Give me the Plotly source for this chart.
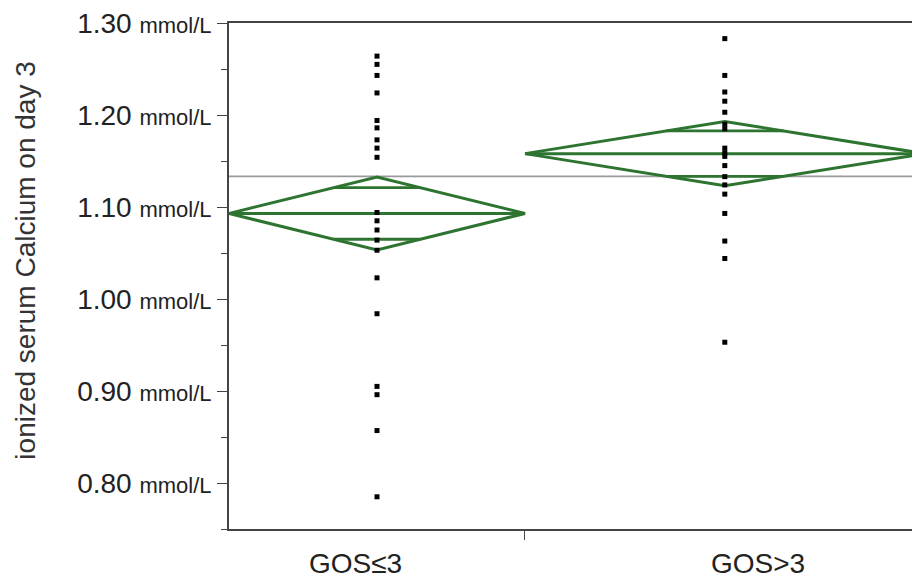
import math
import plotly.graph_objects as go

# ---- data ----
groups = ["GOS≤3", "GOS>3"]
group_n = [20, 27]                      # relative group sizes (diamond widths)
group_means = [1.093, 1.158]
group_ci_half = [0.0397, 0.0350]
grand_mean = 1.1333

gos_le3 = [1.264, 1.255, 1.243, 1.224, 1.194, 1.186, 1.173, 1.164, 1.154,
           1.094, 1.085, 1.075, 1.064, 1.053, 1.023, 0.984, 0.905, 0.896,
           0.857, 0.785]
gos_gt3 = [1.283, 1.243, 1.225, 1.215, 1.203, 1.190, 1.185, 1.164, 1.159,
           1.155, 1.145, 1.133, 1.124, 1.114, 1.093, 1.063, 1.044, 0.953]
values = [gos_le3, gos_gt3]

y_ticks = [0.80, 0.90, 1.00, 1.10, 1.20, 1.30]
y_minor = [0.75, 0.85, 0.95, 1.05, 1.15, 1.25]
y_title = "ionized serum Calcium on day 3"
unit = "mmol/L"

GREEN = "#2E7431"
FONT = "Liberation Sans, Arial, sans-serif"

fig = go.Figure()

# group extents from sizes
edges = [0]
for n in group_n:
    edges.append(edges[-1] + n)
total = edges[-1]

# grand mean line
fig.add_trace(go.Scatter(x=[0, total], y=[grand_mean, grand_mean], mode="lines",
                         line=dict(color="#9a9a9a", width=1.8), hoverinfo="skip",
                         showlegend=False))

k = 1 - 1 / math.sqrt(2)
for i in range(len(groups)):
    x0, x1 = edges[i], edges[i + 1]
    c = (x0 + x1) / 2
    w = (x1 - x0) / 2
    m = group_means[i]
    h = group_ci_half[i]
    # diamond
    fig.add_trace(go.Scatter(x=[x0, c, x1, c, x0], y=[m, m + h, m, m - h, m],
                             mode="lines", line=dict(color=GREEN, width=3),
                             hoverinfo="skip", showlegend=False))
    # mean line
    fig.add_trace(go.Scatter(x=[x0, x1], y=[m, m], mode="lines",
                             line=dict(color=GREEN, width=3),
                             hoverinfo="skip", showlegend=False))
    # overlap marks
    for s in (1, -1):
        yy = m + s * h / math.sqrt(2)
        fig.add_trace(go.Scatter(x=[c - w * k, c + w * k], y=[yy, yy], mode="lines",
                                 line=dict(color=GREEN, width=2.8),
                                 hoverinfo="skip", showlegend=False))
    # points
    fig.add_trace(go.Scatter(x=[c] * len(values[i]), y=values[i], mode="markers",
                             marker=dict(symbol="square", size=5, color="black"),
                             name=groups[i], showlegend=False))

# group labels
label_shift = [-22, 33]
for i, g in enumerate(groups):
    c = (edges[i] + edges[i + 1]) / 2
    fig.add_annotation(x=c, y=0, xref="x", yref="paper", text=g, showarrow=False,
                       yanchor="middle", yshift=-34, xshift=label_shift[i],
                       font=dict(size=28, color="#222", family=FONT))

# y title
fig.add_annotation(x=-0.294, y=0.53, xref="paper", yref="paper", text=y_title,
                   textangle=-90, showarrow=False, xanchor="center", yanchor="middle",
                   font=dict(size=28, color="#333", family=FONT))

fig.update_layout(
    width=912, height=572,
    margin=dict(l=221, r=0, t=13, b=51),
    paper_bgcolor="white", plot_bgcolor="white",
    font=dict(family=FONT, color="#222"),
    showlegend=False,
)
fig.update_xaxes(range=[0, total - 0.31], showgrid=False, zeroline=False,
                 showline=True, linecolor="#444", linewidth=1.6, mirror=True,
                 tickmode="array", tickvals=[edges[1]], ticktext=[""],
                 ticks="outside", ticklen=9, tickcolor="#444", tickwidth=1.4)
fig.update_yaxes(range=[0.75, 1.30], showgrid=False, zeroline=False,
                 showline=True, linecolor="#444", linewidth=1.6,
                 tickmode="array", tickvals=y_ticks, ticklabeloverflow="allow",
                 ticktext=[f"{v:.2f} <span style='font-size:22px'>{unit}</span>" for v in y_ticks],
                 ticks="outside", ticklen=10, tickcolor="#444", tickwidth=1.4,
                 tickfont=dict(size=28, color="#222", family=FONT),
                 minor=dict(tickmode="array", tickvals=y_minor, ticks="outside",
                            ticklen=6, tickcolor="#444", tickwidth=1.4))

fig.write_html("out.html")
